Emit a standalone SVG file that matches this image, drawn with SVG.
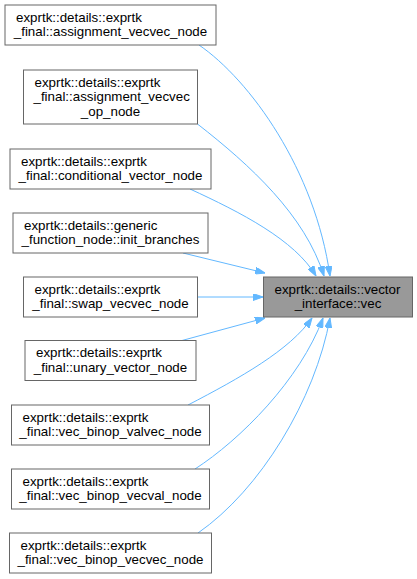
<svg xmlns="http://www.w3.org/2000/svg" width="417" height="579" viewBox="0 0 417 579">
<style>
.n rect{fill:#ffffff;stroke:#666666;stroke-width:1}
.t rect{fill:#999999;stroke:#666666;stroke-width:1}
text{font-family:"Liberation Sans",Arial,Helvetica,sans-serif;font-size:13.33px;fill:#000000}
.m{text-anchor:middle}
.e path{fill:none;stroke:#63b8ff;stroke-width:1;marker-end:url(#ah)}
</style>
<defs>
<marker id="ah" viewBox="0 0 10 7" refX="10" refY="3.5" markerWidth="10" markerHeight="7" markerUnits="userSpaceOnUse" orient="auto">
<path d="M0,0 L10,3.5 L0,7 z" fill="#63b8ff" stroke="#63b8ff" stroke-width="1"/>
</marker>
</defs>
<g id="edges" class="e">
<path d="M199,45 C250,80 315,170 330,276"/>
<path d="M197.5,124 C250,165 305,215 324,276"/>
<path d="M190,189 C240,212 295,240 316,276"/>
<path d="M183,253 L265,273"/>
<path d="M197.5,297 L263,297"/>
<path d="M182,340.5 L265,318"/>
<path d="M188,405 C240,378 290,350 312,318"/>
<path d="M195,469 C240,440 300,380 323,318"/>
<path d="M198,533 C260,490 315,400 330,318"/>
</g>
<g id="target" class="t">
<rect x="263.5" y="277" width="149" height="40"/>
<text x="274.5" y="293.5">exprtk::details::vector</text>
<text class="m" x="338" y="308">_interface::vec</text>
</g>
<g id="n1" class="n">
<rect x="5" y="5" width="211" height="40"/>
<text x="16" y="21.5">exprtk::details::exprtk</text>
<text class="m" x="110.5" y="36">_final::assignment_vecvec_node</text>
</g>
<g id="n2" class="n">
<rect x="23.5" y="70" width="174" height="54"/>
<text x="34.5" y="86.5">exprtk::details::exprtk</text>
<text x="33.5" y="101">_final::assignment_vecvec</text>
<text class="m" x="110.5" y="115.5">_op_node</text>
</g>
<g id="n3" class="n">
<rect x="10" y="149" width="201" height="40"/>
<text x="21" y="165.5">exprtk::details::exprtk</text>
<text class="m" x="110.5" y="180">_final::conditional_vector_node</text>
</g>
<g id="n4" class="n">
<rect x="13" y="213" width="195" height="40"/>
<text x="24" y="229.5">exprtk::details::generic</text>
<text class="m" x="110.5" y="244">_function_node::init_branches</text>
</g>
<g id="n5" class="n">
<rect x="23.5" y="277" width="174" height="40"/>
<text x="34.5" y="293.5">exprtk::details::exprtk</text>
<text class="m" x="110.5" y="308">_final::swap_vecvec_node</text>
</g>
<g id="n6" class="n">
<rect x="25" y="340.5" width="171" height="40"/>
<text x="36" y="357">exprtk::details::exprtk</text>
<text class="m" x="110.5" y="371.5">_final::unary_vector_node</text>
</g>
<g id="n7" class="n">
<rect x="11.5" y="405" width="198" height="40"/>
<text x="22.5" y="421.5">exprtk::details::exprtk</text>
<text class="m" x="110.5" y="436">_final::vec_binop_valvec_node</text>
</g>
<g id="n8" class="n">
<rect x="11.5" y="469" width="198" height="40"/>
<text x="22.5" y="485.5">exprtk::details::exprtk</text>
<text class="m" x="110.5" y="500">_final::vec_binop_vecval_node</text>
</g>
<g id="n9" class="n">
<rect x="9.5" y="533" width="202" height="40"/>
<text x="20.5" y="549.5">exprtk::details::exprtk</text>
<text class="m" x="110.5" y="564">_final::vec_binop_vecvec_node</text>
</g>
</svg>
